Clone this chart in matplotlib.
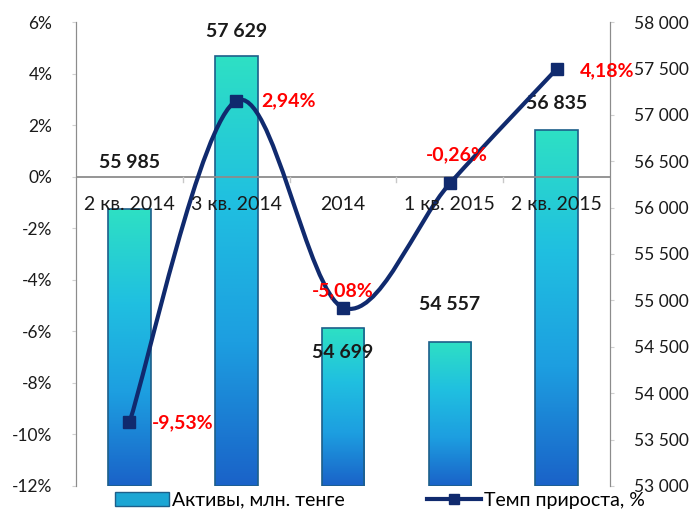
import numpy as np
import matplotlib
matplotlib.use('Agg')
import matplotlib.pyplot as plt
from matplotlib.path import Path
from matplotlib.patches import PathPatch, Rectangle
from matplotlib.colors import LinearSegmentedColormap
from matplotlib.lines import Line2D
from matplotlib.ticker import FuncFormatter, MultipleLocator

plt.rcParams['font.family'] = ['Lato', 'DejaVu Sans']

# Данные
categories = ['2 кв. 2014', '3 кв. 2014', '2014', '1 кв. 2015', '2 кв. 2015']
assets = [55985, 57629, 54699, 54557, 56835]          # млн. тенге
growth = [-9.53, 2.94, -5.08, -0.26, 4.18]           # %
asset_labels = ['55 985', '57 629', '54 699', '54 557', '56 835']
growth_labels = ['-9,53%', '2,94%', '-5,08%', '-0,26%', '4,18%']

fig = plt.figure(figsize=(6.91, 5.19), dpi=100)
ax = fig.add_axes([0.110, 0.0636, 0.773, 0.894])
ax2 = ax.twinx()

# столбцы (правая ось) с градиентом
cmap = LinearSegmentedColormap.from_list('bar', ['#1a62c8', '#1d9ee0', '#20c0e0', '#2ee0c4'])
grad = np.linspace(0, 1, 256).reshape(-1, 1)
x = np.arange(len(categories))
width = 0.4
ymin = 53000
for xi, v in zip(x, assets):
    im = ax.imshow(grad, extent=[xi - width / 2, xi + width / 2, ymin, v],
                   origin='lower', cmap=cmap, aspect='auto', zorder=2)
    rect = Rectangle((xi - width / 2, ymin), width, v - ymin,
                     facecolor='none', edgecolor='#1d5f8a', lw=1.2, zorder=3)
    ax.add_patch(rect)
    im.set_clip_path(rect)

ax.set_xlim(-0.5, len(categories) - 0.5)
ax.set_ylim(53000, 58000)
ax.yaxis.tick_right()
ax.yaxis.set_major_locator(MultipleLocator(500))
ax.yaxis.set_major_formatter(FuncFormatter(lambda v, p: f'{int(v):,}'.replace(',', ' ')))

# подписи столбцов
bar_offsets = [46, 25, -24, 37, 27]
for xi, v, lab, off in zip(x, assets, asset_labels, bar_offsets):
    ax.annotate(lab, (xi, v), xytext=(0, off), textcoords='offset pixels',
                ha='center', va='center', fontsize=14, fontweight='bold',
                color='#1a1a1a', zorder=6)

# сглаженная линия (левая ось)
pts = np.column_stack([x, growth]).astype(float)
n = len(pts)
verts = [tuple(pts[0])]
codes = [Path.MOVETO]
for i in range(n - 1):
    p_prev = pts[i - 1] if i > 0 else pts[i]
    p_next = pts[i + 2] if i + 2 < n else pts[i + 1]
    c1 = pts[i] + (pts[i + 1] - p_prev) / 6
    c2 = pts[i + 1] - (p_next - pts[i]) / 6
    verts += [tuple(c1), tuple(c2), tuple(pts[i + 1])]
    codes += [Path.CURVE4] * 3
ax2.add_patch(PathPatch(Path(verts, codes), facecolor='none',
                        edgecolor='#102a6e', lw=3, zorder=4))
ax2.plot(x, growth, ls='none', marker='s', ms=8, color='#102a6e', zorder=5)

ax2.set_ylim(-12, 6)
ax2.yaxis.tick_left()
ax2.yaxis.set_major_locator(MultipleLocator(2))
ax2.yaxis.set_major_formatter(FuncFormatter(lambda v, p: f'{int(round(v))}%'))

# подписи линии
growth_offsets = [(53, 0), (52, 0), (0, 17), (7, 29), (50, -2)]
for xi, v, lab, off in zip(x, growth, growth_labels, growth_offsets):
    ax2.annotate(lab, (xi, v), xytext=off, textcoords='offset pixels',
                 ha='center', va='center', fontsize=14, fontweight='bold',
                 color='#ff0000', zorder=7)

# ось категорий на уровне 0%
ax2.axhline(0, color='#8c8c8c', lw=1.3, zorder=3)
for xb in np.arange(0.5, len(categories) - 0.5, 1):
    ax2.plot([xb, xb], [0, -0.2], color='#c8c8c8', lw=1, zorder=3)
for xi, lab in zip(x, categories):
    ax2.annotate(lab, (xi, 0), xytext=(0, -28), textcoords='offset pixels',
                 ha='center', va='center', fontsize=14, color='#1a1a1a', zorder=6)

ax.set_xticks([])
ax2.set_xticks([])
for a in (ax, ax2):
    a.spines['top'].set_visible(False)
    a.spines['bottom'].set_visible(False)
    a.spines['left'].set_color('#8c8c8c')
    a.spines['right'].set_color('#8c8c8c')
    a.tick_params(axis='y', length=3, color='#d0d0d0', labelsize=12.5,
                  labelcolor='#1a1a1a', pad=14)

# легенда
h1 = Rectangle((0, 0), 1, 1, facecolor='#1ca6d4', edgecolor='#1d5f8a', lw=1)
h2 = Line2D([], [], color='#102a6e', lw=3, marker='s', ms=7)
fig.legend([h1, h2], ['Активы, млн. тенге', 'Темп прироста, %'],
           loc='lower center', bbox_to_anchor=(0.55, -0.014), ncol=2,
           frameon=False, fontsize=14, columnspacing=4.2,
           handlelength=2.8, handletextpad=0.15)

fig.savefig('out.png', dpi=100)
